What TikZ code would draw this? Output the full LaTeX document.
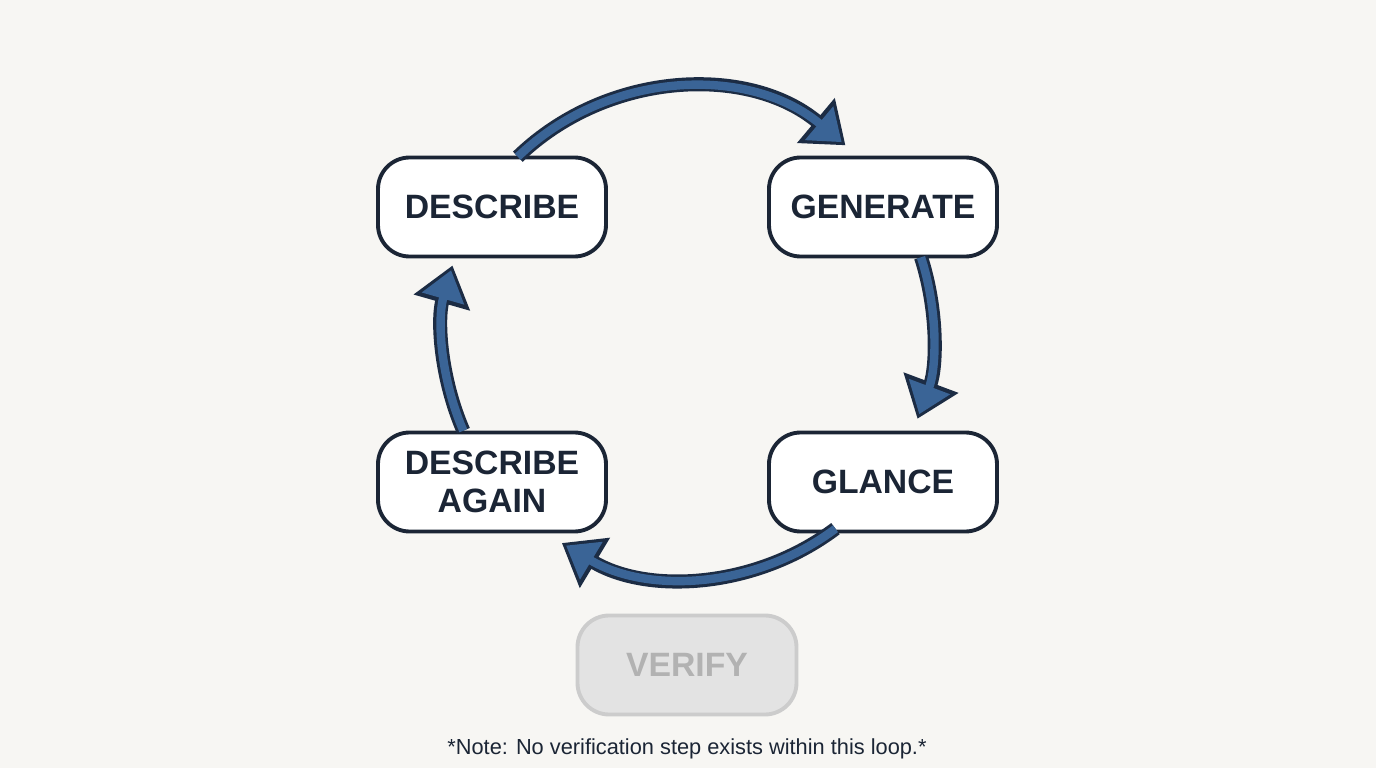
\documentclass[tikz,border=0pt]{standalone}
\usepackage{fontspec}
\setmainfont{Liberation Sans}
\usetikzlibrary{positioning,arrows.meta}
\definecolor{bgc}{HTML}{F7F6F3}
\definecolor{ink}{HTML}{1B2535}
\definecolor{flowblue}{HTML}{3A6496}
\definecolor{flowdark}{HTML}{1C2C44}
\begin{document}
\begin{tikzpicture}[
        stage/.style={rectangle, draw=ink, line width=1.1pt, fill=white, rounded corners=9pt, minimum width=2.28cm, minimum height=0.99cm, align=center, font=\fontsize{9.6}{11}\selectfont\bfseries, text=ink},
        ghost/.style={stage, draw=black!20, fill=black!11, text=black!30, minimum width=2.19cm},
        flowout/.style={line width=4pt, draw=flowdark, -{Triangle[length=11pt,width=16pt]}},
        flowin/.style={line width=2.4pt, draw=flowblue, -{Triangle[length=8.4pt,width=12pt]}, shorten >=1.4pt}
    ]
        \fill[bgc] (0,0) rectangle (13.76,7.68);

        % loop stages
        \node[stage] (describe) at (4.92,5.61) {DESCRIBE};
        \node[stage] (generate) at (8.83,5.61) {GENERATE};
        \node[stage] (glance) at (8.83,2.86) {GLANCE};
        \node[stage] (again) at (4.92,2.86) {DESCRIBE\\AGAIN};

        % greyed out stage
        \node[ghost] (verify) at (6.87,1.03) {VERIFY};
        \node[font=\fontsize{6.2}{7}\selectfont, text=ink, below=0.1cm of verify] (note) {*Note: No verification step exists within this loop.*};

        % circular arrows
        \coordinate (ctr) at (6.88,4.35);
        \foreach \a/\b in {134/50, 18/-20.5, -53/-121, 203.5/164} {
            \draw[flowout] (ctr) ++(\a:2.45) arc (\a:\b:2.45);
            \draw[flowin] (ctr) ++(\a:2.45) arc (\a:\b:2.45);
        }
    \end{tikzpicture}
\end{document}
